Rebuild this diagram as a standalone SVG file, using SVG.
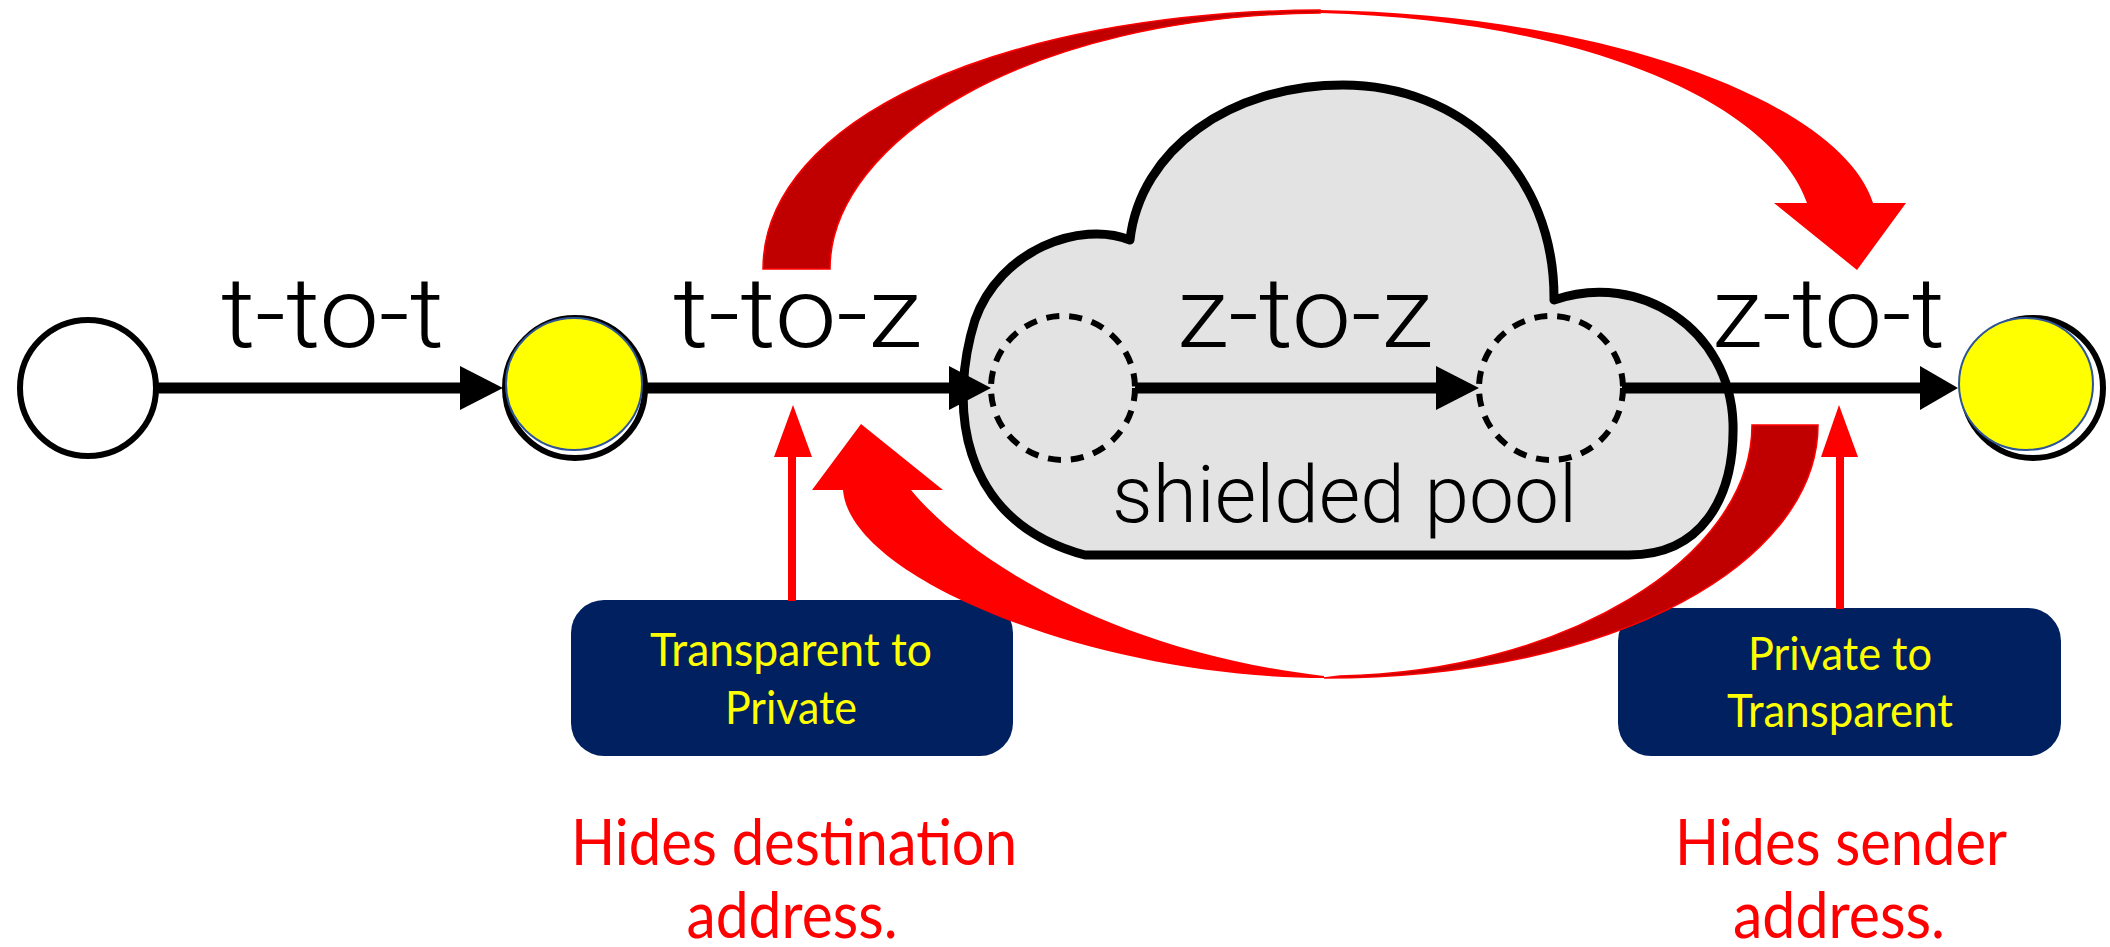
<svg xmlns="http://www.w3.org/2000/svg" width="2110" height="947" viewBox="0 0 2110 947">
<style>
.lbl{font-family:Roboto,"Liberation Sans",Arial,sans-serif;font-weight:300;fill:#000;}
.big{font-size:98px;}
.box{fill:#002060;}
.boxt{font-family:Lato,"Noto Sans",sans-serif;font-size:46px;fill:#FFFF00;text-anchor:middle;}
.note{font-family:Lato,"Noto Sans",sans-serif;font-size:63px;fill:#FF0000;text-anchor:middle;}
.ln{stroke:#000;stroke-width:11;fill:none;}
.hd{fill:#000;}
.dash{fill:none;stroke:#000;stroke-width:6;stroke-dasharray:13 10;}
.dk{fill:#C00000;stroke:#FF0000;stroke-width:1.5;}
.br{fill:#FF0000;}
.thin{stroke:#FF0000;stroke-width:8;fill:none;}
</style>
<rect width="2110" height="947" fill="#fff"/>

<g id="pool">
<path d="M1085,555 L1629,555 C1700,555 1735,500 1733,423 C1730,330 1640,270 1554,300 C1555,170 1460,85 1343,85 C1230,85 1140,150 1130,240 C1080,220 1000,250 975,320 C950,400 955,520 1085,555 Z" fill="#E3E3E3" stroke="#000" stroke-width="9" stroke-linejoin="round"/>
<text class="lbl" x="1112" y="522" font-size="79" textLength="465" lengthAdjust="spacingAndGlyphs">shielded pool</text>
</g>
<g id="z1"><circle class="dash" cx="1063" cy="388" r="72"/></g>
<g id="z2"><circle class="dash" cx="1551" cy="388" r="72"/></g>

<g id="connectors">
<line class="ln" x1="158" y1="388" x2="462" y2="388"/>
<polygon class="hd" points="460,366 503,388 460,410"/>
<line class="ln" x1="647" y1="388" x2="951" y2="388"/>
<polygon class="hd" points="949,366 991,388 949,410"/>
<line class="ln" x1="1135" y1="388" x2="1438" y2="388"/>
<polygon class="hd" points="1436,366 1479,388 1436,410"/>
<line class="ln" x1="1622" y1="388" x2="1922" y2="388"/>
<polygon class="hd" points="1920,366 1958,388 1920,410"/>
</g>

<g id="n0"><circle cx="88" cy="388" r="68" fill="#fff" stroke="#000" stroke-width="6"/></g>
<g id="n1">
<circle cx="575" cy="388" r="70" fill="#fff" stroke="#000" stroke-width="6"/>
<ellipse cx="574" cy="384" rx="68" ry="66" fill="#FFFF00" stroke="#2F5597" stroke-width="2"/>
</g>
<g id="n2">
<circle cx="2033" cy="388" r="70" fill="#fff" stroke="#000" stroke-width="6"/>
<ellipse cx="2026" cy="384" rx="67" ry="66" fill="#FFFF00" stroke="#2F5597" stroke-width="2"/>
</g>

<g id="labels">
<text class="lbl big" x="221" y="347" textLength="223" lengthAdjust="spacingAndGlyphs">t-to-t</text>
<text class="lbl big" x="673" y="347" textLength="249" lengthAdjust="spacingAndGlyphs">t-to-z</text>
<text class="lbl big" x="1177" y="347" textLength="256" lengthAdjust="spacingAndGlyphs">z-to-z</text>
<text class="lbl big" x="1712" y="347" textLength="233" lengthAdjust="spacingAndGlyphs">z-to-t</text>
</g>

<g id="box1">
<rect class="box" x="571" y="600" width="442" height="156" rx="33"/>
<text class="boxt" x="791" y="666" textLength="282" lengthAdjust="spacingAndGlyphs">Transparent to</text>
<text class="boxt" x="791" y="724" textLength="132" lengthAdjust="spacingAndGlyphs">Private</text>
</g>
<g id="box2">
<rect class="box" x="1618" y="608" width="443" height="148" rx="33"/>
<text class="boxt" x="1840" y="670" textLength="184" lengthAdjust="spacingAndGlyphs">Private to</text>
<text class="boxt" x="1840" y="727" textLength="226" lengthAdjust="spacingAndGlyphs">Transparent</text>
</g>

<g id="pointers">
<line class="thin" x1="792" y1="455" x2="792" y2="601"/>
<polygon class="br" points="774,457 793,405 812,457"/>
<line class="thin" x1="1840" y1="455" x2="1840" y2="609"/>
<polygon class="br" points="1821,457 1839,405 1858,457"/>
</g>

<g id="arc-top">
<path class="dk" d="M763,269 C763,120 1000,12 1320,10 L1320,13 C1030,16 830,140 830,269 Z"/>
<path class="br" d="M1320,10 C1600,14 1840,100 1873,203 L1906,203 L1857,270 L1774,203 L1807,203 C1770,100 1580,20 1320,13 Z"/>
</g>
<g id="arc-bottom">
<path class="dk" d="M1818,425 C1818,560 1620,678 1324,678 L1340,676 C1560,672 1752,560 1752,425 Z"/>
<path class="br" d="M1324,678 C1100,678 850,580 843,490 L812,490 L861,424 L943,490 L911,490 C960,550 1100,650 1324,676 Z"/>
</g>

<g id="notes">
<text class="note" x="794" y="865" textLength="446" lengthAdjust="spacingAndGlyphs">Hides destination</text>
<text class="note" x="792" y="938" textLength="211" lengthAdjust="spacingAndGlyphs">address.</text>
<text class="note" x="1841" y="865" textLength="332" lengthAdjust="spacingAndGlyphs">Hides sender</text>
<text class="note" x="1839" y="938" textLength="212" lengthAdjust="spacingAndGlyphs">address.</text>
</g>
</svg>
